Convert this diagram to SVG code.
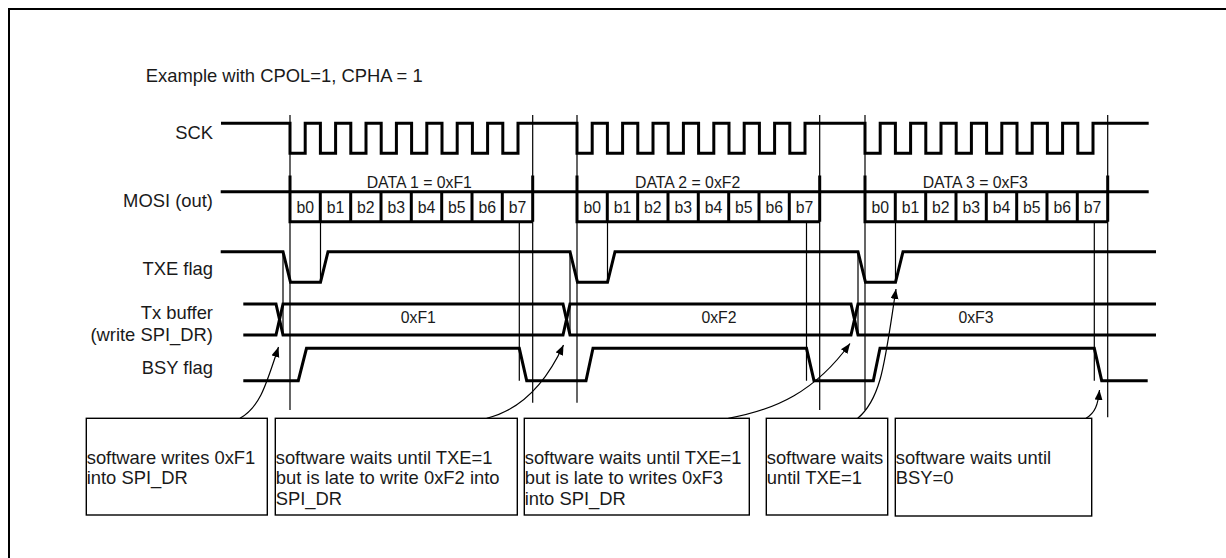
<svg xmlns="http://www.w3.org/2000/svg" width="1226" height="558" viewBox="0 0 1226 558">
<style>
text{font-family:"Liberation Sans",Arial,sans-serif;fill:#1a1a1a}
.lbl{font-size:18.4px;text-anchor:end}
.big{font-size:18.4px}
.sm{font-size:15.8px}
.mid{text-anchor:middle}
.sig{fill:none;stroke:#000;stroke-width:3;stroke-linejoin:miter}
.thin{fill:none;stroke:#000;stroke-width:1.2}
.box{fill:#fff;stroke:#000;stroke-width:1.4}
.arr{fill:none;stroke:#000;stroke-width:1.2;marker-end:url(#ah)}
</style>
<defs>
<marker id="ah" markerWidth="12" markerHeight="10" refX="10" refY="4" orient="auto" markerUnits="userSpaceOnUse"><path d="M0,0 L10,4 L0,8 Z" fill="#000"/></marker>
</defs>
<rect width="1226" height="558" fill="#fff"/>
<path d="M9,558 V9 H1226" fill="none" stroke="#000" stroke-width="2"/>
<text class="big" x="145.7" y="81.8">Example with CPOL=1, CPHA = 1</text>
<g id="labels">
<text class="lbl" x="213" y="139">SCK</text>
<text class="lbl" x="213" y="207.3">MOSI (out)</text>
<text class="lbl" x="213" y="275">TXE flag</text>
<text class="lbl" x="213" y="319.3">Tx buffer</text>
<text class="lbl" x="213" y="340.7">(write SPI_DR)</text>
<text class="lbl" x="213" y="374">BSY flag</text>
</g>
<g id="guides" class="thin">
<path d="M290,115 V410 M532.7,115 V402.7 M577,115 V402.7 M819.7,115 V410 M865,115 V410 M1107.7,115 V417.3"/>
<path d="M320.5,221.7 V282.3 M607.5,221.7 V282.3 M895.5,221.7 V282.3"/>
<path d="M519.3,221.7 V380.7 M806.5,221.7 V380.7 M1094.3,221.7 V380.7"/>
<path d="M283,251.7 V335 M570,251.7 V335 M858,251.7 V335"/>
</g>
<g id="sck">
<path class="sig" d="M221,123.3 H290 V153.3 H305.2 V123.3 H320.4 V153.3 H335.6 V123.3 H350.8 V153.3 H366 V123.3 H381.2 V153.3 H396.4 V123.3 H411.6 V153.3 H426.8 V123.3 H442 V153.3 H457.2 V123.3 H472.4 V153.3 H487.6 V123.3 H502.8 V153.3 H518 V123.3 H577 V153.3 H592.2 V123.3 H607.4 V153.3 H622.6 V123.3 H637.8 V153.3 H653 V123.3 H668.2 V153.3 H683.4 V123.3 H698.6 V153.3 H713.8 V123.3 H729 V153.3 H744.2 V123.3 H759.4 V153.3 H774.6 V123.3 H789.8 V153.3 H805 V123.3 H865 V153.3 H880.2 V123.3 H895.4 V153.3 H910.6 V123.3 H925.8 V153.3 H941 V123.3 H956.2 V153.3 H971.4 V123.3 H986.6 V153.3 H1001.8 V123.3 H1017 V153.3 H1032.2 V123.3 H1047.4 V153.3 H1062.6 V123.3 H1077.8 V153.3 H1093 V123.3 H1148.7"/>
</g>
<g id="mosi">
<path class="sig" d="M220.7,191.7 H1148.7"/>
<path class="sig" d="M290,175.5 V221.7 H532.7 M532.7,175.5 V221.7 M320.3,191.7 V221.7 M350.7,191.7 V221.7 M381,191.7 V221.7 M411.3,191.7 V221.7 M441.7,191.7 V221.7 M472,191.7 V221.7 M502.3,191.7 V221.7"/>
<path class="sig" d="M577,175.5 V221.7 H819.7 M819.7,175.5 V221.7 M607.3,191.7 V221.7 M637.7,191.7 V221.7 M668,191.7 V221.7 M698.3,191.7 V221.7 M728.7,191.7 V221.7 M759,191.7 V221.7 M789.3,191.7 V221.7"/>
<path class="sig" d="M865,175.5 V221.7 H1107.7 M1107.7,175.5 V221.7 M895.3,191.7 V221.7 M925.7,191.7 V221.7 M956,191.7 V221.7 M986.3,191.7 V221.7 M1016.7,191.7 V221.7 M1047,191.7 V221.7 M1077.3,191.7 V221.7"/>
<text class="sm" x="366.7" y="187.7">DATA 1 = 0xF1</text>
<text class="sm" x="635" y="187.7">DATA 2 = 0xF2</text>
<text class="sm" x="922.7" y="187.7">DATA 3 = 0xF3</text>
<g class="sm mid">
<text x="305.2" y="212.5">b0</text><text x="335.5" y="212.5">b1</text><text x="365.8" y="212.5">b2</text><text x="396.2" y="212.5">b3</text><text x="426.5" y="212.5">b4</text><text x="456.8" y="212.5">b5</text><text x="487.2" y="212.5">b6</text><text x="517.5" y="212.5">b7</text>
<text x="592.2" y="212.5">b0</text><text x="622.5" y="212.5">b1</text><text x="652.8" y="212.5">b2</text><text x="683.2" y="212.5">b3</text><text x="713.5" y="212.5">b4</text><text x="743.8" y="212.5">b5</text><text x="774.2" y="212.5">b6</text><text x="804.5" y="212.5">b7</text>
<text x="880.2" y="212.5">b0</text><text x="910.5" y="212.5">b1</text><text x="940.8" y="212.5">b2</text><text x="971.2" y="212.5">b3</text><text x="1001.5" y="212.5">b4</text><text x="1031.8" y="212.5">b5</text><text x="1062.2" y="212.5">b6</text><text x="1092.5" y="212.5">b7</text>
</g>
</g>
<g id="txe">
<path class="sig" d="M220.7,251.7 H283 L290.5,282.3 H320.5 L328,251.7 H570 L577.5,282.3 H607.5 L615,251.7 H858 L865.5,282.3 H895.5 L903,251.7 H1156"/>
</g>
<g id="txbuf">
<path class="sig" d="M243.3,304 H276 L283,335 H563 L570,304 H851 L858,335 H1156"/>
<path class="sig" d="M243.3,335 H276 L283,304 H563 L570,335 H851 L858,304 H1156"/>
<text class="sm mid" x="418.3" y="322.7">0xF1</text>
<text class="sm mid" x="719" y="322.7">0xF2</text>
<text class="sm mid" x="976" y="322.7">0xF3</text>
</g>
<g id="bsy">
<path class="sig" d="M243.3,380.7 H298.3 L306.5,348.3 H519.3 L526.7,380.7 H586 L593,348.3 H806.5 L814,380.7 H873.3 L880,348.3 H1094.3 L1101.7,380.7 H1147.7"/>
</g>
<g id="box1">
<rect class="box" x="86.3" y="418.3" width="181" height="96.7"/>
<text class="big" x="86.7" y="463.5">software writes 0xF1</text>
<text class="big" x="86.7" y="484">into SPI_DR</text>
</g>
<g id="box2">
<rect class="box" x="275.3" y="418.3" width="242" height="96.7"/>
<text class="big" x="275.7" y="463.5">software waits until TXE=1</text>
<text class="big" x="275.7" y="484">but is late to write 0xF2 into</text>
<text class="big" x="275.7" y="504.5">SPI_DR</text>
</g>
<g id="box3">
<rect class="box" x="524.3" y="418.3" width="225" height="96.7"/>
<text class="big" x="524.7" y="463.5">software waits until TXE=1</text>
<text class="big" x="524.7" y="484">but is late to writes 0xF3</text>
<text class="big" x="524.7" y="504.5">into SPI_DR</text>
</g>
<g id="box4">
<rect class="box" x="766.3" y="418.3" width="121.4" height="96.7"/>
<text class="big" x="766.7" y="463.5">software waits</text>
<text class="big" x="766.7" y="484">until TXE=1</text>
</g>
<g id="box5">
<rect class="box" x="895.3" y="418.3" width="196.4" height="97.7"/>
<text class="big" x="895.7" y="463.5">software waits until</text>
<text class="big" x="895.7" y="484">BSY=0</text>
</g>
<g id="connectors">
<path class="arr" d="M240,418.3 C260,407 266,385 278.5,347"/>
<path class="arr" d="M486.7,418.3 C520,410 545,385 563.5,345"/>
<path class="arr" d="M728.3,418.3 C775,410 815,392 850,343.5"/>
<path class="arr" d="M857.7,418.3 C882,398 885,360 896,289"/>
<path class="arr" d="M1086,418.3 C1095,413 1098,405 1099.5,390"/>
</g>
</svg>
